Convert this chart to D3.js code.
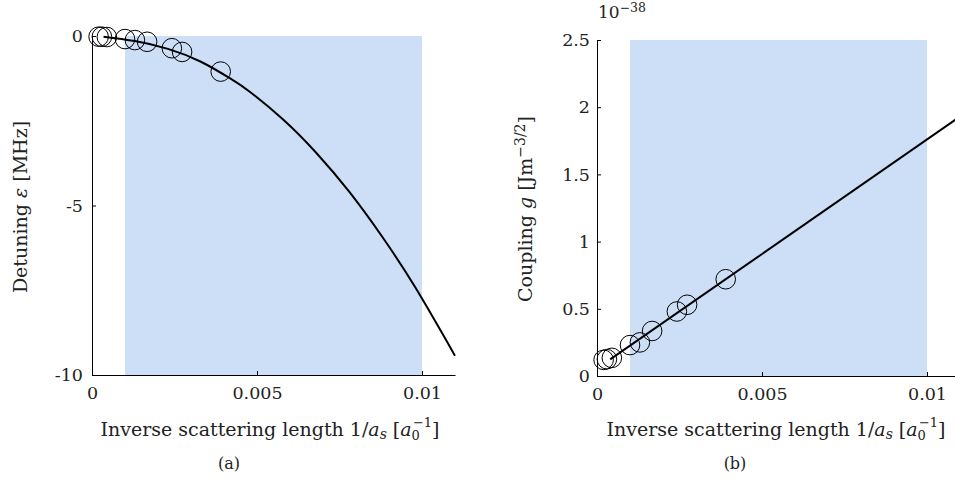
<!DOCTYPE html>
<html>
<head>
<meta charset="utf-8">
<script src="https://cdn.jsdelivr.net/npm/d3@7"></script>
<style>
  body { margin: 0; background: #fff; }
  svg { display: block; font-family: "DejaVu Serif", serif; }
  .axis path, .axis line { stroke: #000; stroke-width: 1; }
  .axis text { font-family: "DejaVu Serif", serif; font-size: 17.5px; fill: #222; }
</style>
</head>
<body>
<svg width="955" height="478"></svg>
<script>
// measured points (same x for both panels)
var invA = [0.0002, 0.0003, 0.00045, 0.001, 0.0013, 0.00167, 0.00242, 0.00273, 0.0039];
var detuning = [-0.02, -0.02, -0.03, -0.09, -0.12, -0.17, -0.36, -0.47, -1.05];
var coupling = [0.12, 0.125, 0.135, 0.23, 0.25, 0.335, 0.48, 0.53, 0.72];

// fitted curves
var fitDetX = [0.00035, 0.0013, 0.0023, 0.0033, 0.0042, 0.0048, 0.0058, 0.0068, 0.0078, 0.0088, 0.0098, 0.011];
var fitDetY = [-0.02, -0.15, -0.38, -0.76, -1.26, -1.66, -2.47, -3.45, -4.60, -5.93, -7.42, -9.43];
var fitCouX = [0.0004, 0.011];
var fitCouY = [0.124, 1.93];

// shaded window
var bandX = [0.001, 0.01];

var xTicks = [0, 0.005, 0.01];
var yTicksL = [-10, -5, 0];
var yTicksR = [0, 0.5, 1, 1.5, 2, 2.5];

var svg = d3.select("svg");

function panel(opt) {
  var x = d3.scaleLinear().domain([0, 0.011]).range([opt.left, opt.left + 363]);
  var y = d3.scaleLinear().domain(opt.yDomain).range([opt.bottom, opt.top]);
  var g = svg.append("g");

  g.append("rect")
    .attr("x", x(bandX[0]))
    .attr("y", y(opt.yDomain[1]))
    .attr("width", x(bandX[1]) - x(bandX[0]))
    .attr("height", y(opt.yDomain[0]) - y(opt.yDomain[1]))
    .attr("fill", "#cddff6");

  g.append("g")
    .attr("class", "axis")
    .attr("transform", "translate(0," + opt.bottom + ")")
    .call(d3.axisBottom(x).tickValues(xTicks).tickFormat(function (d) { return String(d); })
      .tickSize(-4).tickSizeOuter(0).tickPadding(12));

  g.append("g")
    .attr("class", "axis")
    .attr("transform", "translate(" + opt.left + ",0)")
    .call(d3.axisLeft(y).tickValues(opt.yTicks).tickFormat(function (d) { return String(d); })
      .tickSize(-4).tickSizeOuter(0).tickPadding(opt.pad));

  var line = d3.line()
    .x(function (d) { return x(d[0]); })
    .y(function (d) { return y(d[1]); })
    .curve(d3.curveNatural);

  g.append("path")
    .datum(d3.zip(opt.fitX, opt.fitY))
    .attr("d", line)
    .attr("fill", "none")
    .attr("stroke", "#000")
    .attr("stroke-width", 2);

  g.selectAll("circle")
    .data(d3.zip(invA, opt.pts))
    .enter()
    .append("circle")
    .attr("cx", function (d) { return x(d[0]); })
    .attr("cy", function (d) { return y(d[1]); })
    .attr("r", 9.8)
    .attr("fill", "none")
    .attr("stroke", "#000")
    .attr("stroke-width", 1);

  // x label
  var xl = g.append("text")
    .attr("x", opt.xLabelX)
    .attr("y", 436)
    .attr("text-anchor", "middle")
    .attr("font-size", 19)
    .attr("fill", "#222");
  xl.append("tspan").text("Inverse scattering length 1/");
  xl.append("tspan").attr("font-style", "italic").text("a");
  xl.append("tspan").attr("font-style", "italic").attr("font-size", 14).attr("dy", 3).text("s");
  xl.append("tspan").attr("dy", -3).text(" [");
  xl.append("tspan").attr("font-style", "italic").text("a");
  xl.append("tspan").attr("font-size", 13).attr("dy", 4).text("0");
  xl.append("tspan").attr("font-size", 13).attr("dx", -7).attr("dy", -13).text("\u22121");
  xl.append("tspan").attr("dy", 9).text("]");

  // panel letter
  g.append("text")
    .attr("x", opt.capX)
    .attr("y", 469)
    .attr("text-anchor", "middle")
    .attr("font-size", 16)
    .attr("fill", "#222")
    .text(opt.cap);

  return { x: x, y: y, g: g };
}

var a = panel({
  left: 92, top: 36, bottom: 375, yDomain: [-10, 0], yTicks: yTicksL, pad: 9,
  fitX: fitDetX, fitY: fitDetY, pts: detuning, xLabelX: 270, capX: 229, cap: "(a)"
});

var b = panel({
  left: 597, top: 40, bottom: 376, yDomain: [0, 2.5], yTicks: yTicksR, pad: 7,
  fitX: fitCouX, fitY: fitCouY, pts: coupling, xLabelX: 776, capX: 735, cap: "(b)"
});

// y labels
var yl = svg.append("text")
  .attr("transform", "translate(27,207) rotate(-90)")
  .attr("text-anchor", "middle")
  .attr("font-size", 19)
  .attr("fill", "#222");
yl.append("tspan").text("Detuning ");
yl.append("tspan").attr("font-style", "italic").text("\u03b5");
yl.append("tspan").text(" [MHz]");

var yr = svg.append("text")
  .attr("transform", "translate(532,209) rotate(-90)")
  .attr("text-anchor", "middle")
  .attr("font-size", 19)
  .attr("fill", "#222");
yr.append("tspan").text("Coupling ");
yr.append("tspan").attr("font-style", "italic").text("g");
yr.append("tspan").text(" [Jm");
yr.append("tspan").attr("font-size", 14).attr("dy", -7).text("\u22123/2");
yr.append("tspan").attr("dy", 7).text("]");

// exponent
var ex = svg.append("text")
  .attr("x", 598)
  .attr("y", 18)
  .attr("font-size", 17)
  .attr("fill", "#222");
ex.append("tspan").text("10");
ex.append("tspan").attr("font-size", 12.5).attr("dy", -6).text("\u221238");
</script>
</body>
</html>
